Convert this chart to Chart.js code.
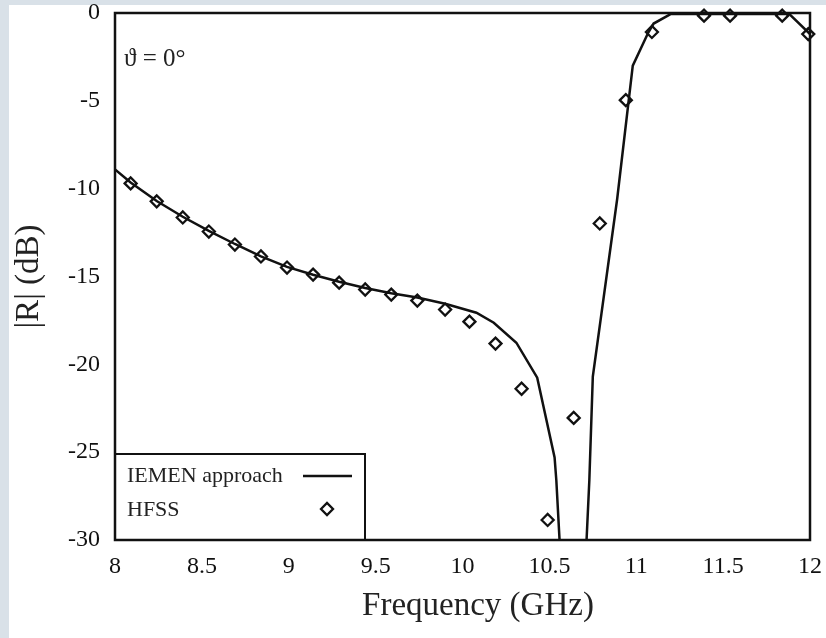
<!DOCTYPE html>
<html>
<head>
<meta charset="utf-8">
<script src="https://cdn.jsdelivr.net/npm/chart.js@4"></script>
<style>
  html, body { margin: 0; padding: 0; background: #d9e1e8; }
  #wrap { width: 826px; height: 638px; position: relative; }
</style>
</head>
<body>
<div id="wrap"><canvas id="reflChart" width="826" height="638"></canvas></div>
<script>
// IEMEN approach (solid line)
const iemenFreq = [8.00, 8.09, 8.24, 8.39, 8.54, 8.69, 8.84, 8.99, 9.14, 9.29, 9.44, 9.59, 9.74, 9.90,
  10.08, 10.18, 10.31, 10.43, 10.53, 10.54, 10.575, 10.70, 10.73, 10.75, 10.89, 10.98, 11.07, 11.10,
  11.20, 11.88, 12.00];
const iemenDb = [-8.9, -9.65, -10.7, -11.6, -12.4, -13.15, -13.85, -14.45, -14.9, -15.3, -15.65, -15.95, -16.2, -16.55,
  -17.06, -17.63, -18.77, -20.76, -25.3, -26.6, -33, -33, -26.6, -20.7, -10.6, -3.0, -1.1, -0.6,
  -0.05, -0.05, -1.2];

// HFSS (diamonds)
const hfssFreq = [8.09, 8.24, 8.39, 8.54, 8.69, 8.84, 8.99, 9.14, 9.29, 9.44, 9.59, 9.74, 9.90,
  10.04, 10.19, 10.34, 10.49, 10.64, 10.79, 10.94, 11.09, 11.39, 11.54, 11.84, 11.99];
const hfssDb = [-9.70, -10.72, -11.64, -12.44, -13.18, -13.86, -14.49, -14.89, -15.35, -15.74, -16.03, -16.37, -16.88,
  -17.57, -18.82, -21.39, -28.86, -23.05, -11.98, -4.96, -1.08, -0.15, -0.15, -0.15, -1.2];

const xTicks = [8, 8.5, 9, 9.5, 10, 10.5, 11, 11.5, 12];
const yTicks = [-30, -25, -20, -15, -10, -5, 0];

const serif = '"Liberation Serif", "Times New Roman", serif';
const ink = '#111111';

// page background + white panel, frame, legend, angle note, x title
const framePlugin = {
    id: 'framePlugin',
    beforeDraw(chart) {
        const ctx = chart.ctx;
        ctx.save();
        ctx.fillStyle = '#d9e1e8';
        ctx.fillRect(0, 0, chart.width, chart.height);
        ctx.fillStyle = '#ffffff';
        ctx.fillRect(9, 5, chart.width - 9, chart.height - 5);
        ctx.restore();
    },
    afterDatasetsDraw(chart) {
        const ctx = chart.ctx;
        const a = chart.chartArea;
        ctx.save();

        // legend box in the lower left corner
        const bx = a.left, by = 454, bw = 250, bh = a.bottom - 454;
        ctx.fillStyle = '#ffffff';
        ctx.fillRect(bx, by, bw, bh);
        ctx.strokeStyle = ink;
        ctx.lineWidth = 2;
        ctx.strokeRect(bx, by, bw, bh);

        const ds = chart.data.datasets;
        ctx.font = '22px ' + serif;
        ctx.fillStyle = '#222';
        ctx.textBaseline = 'middle';
        ctx.fillText(ds[0].label, bx + 12, 476);
        ctx.fillText(ds[1].label, bx + 12, 510);

        ctx.strokeStyle = ds[0].borderColor;
        ctx.lineWidth = ds[0].borderWidth;
        ctx.beginPath();
        ctx.moveTo(bx + 188, 476);
        ctx.lineTo(bx + 237, 476);
        ctx.stroke();

        ctx.fillStyle = '#ffffff';
        ctx.strokeStyle = ds[1].pointBorderColor;
        ctx.lineWidth = ds[1].pointBorderWidth;
        Chart.helpers.drawPoint(ctx, {
            pointStyle: 'rectRot',
            radius: ds[1].pointRadius,
            borderWidth: ds[1].pointBorderWidth,
            rotation: 0
        }, bx + 212, 509);

        // plot frame
        ctx.strokeStyle = ink;
        ctx.lineWidth = 2.5;
        ctx.strokeRect(a.left, a.top, a.right - a.left, a.bottom - a.top);

        // incidence angle note
        ctx.font = '25px ' + serif;
        ctx.fillStyle = '#222';
        ctx.textBaseline = 'alphabetic';
        ctx.fillText('\u03D1 = 0\u00B0', a.left + 9, 66);

        // x axis title (sits a little right of the plot centre in the original)
        ctx.font = '33px ' + serif;
        ctx.textAlign = 'center';
        ctx.textBaseline = 'middle';
        ctx.fillText('Frequency (GHz)', 478, 606);
        ctx.restore();
    }
};

const ctx = document.getElementById('reflChart').getContext('2d');
const myChart = new Chart(ctx, {
    type: 'scatter',
    data: {
        datasets: [
            {
                label: 'IEMEN approach',
                type: 'line',
                data: iemenFreq.map((f, i) => ({ x: f, y: iemenDb[i] })),
                borderColor: ink,
                borderWidth: 2.5,
                pointRadius: 0,
                fill: false,
                tension: 0
            },
            {
                label: 'HFSS',
                data: hfssFreq.map((f, i) => ({ x: f, y: hfssDb[i] })),
                pointStyle: 'rectRot',
                pointRadius: 6,
                pointBorderWidth: 2.3,
                pointBorderColor: ink,
                pointBackgroundColor: 'rgba(255,255,255,0)',
                borderColor: ink,
                clip: false
            }
        ]
    },
    options: {
        responsive: false,
        animation: false,
        devicePixelRatio: 1,
        layout: { padding: { top: 13, right: 16, left: 0, bottom: 0 } },
        plugins: {
            legend: { display: false },
            tooltip: { enabled: false }
        },
        scales: {
            x: {
                type: 'linear',
                min: 8,
                max: 12,
                afterBuildTicks: (axis) => { axis.ticks = xTicks.map(v => ({ value: v })); },
                afterFit: (axis) => {
                    axis.height = 98;
                    axis.paddingLeft = 0;
                    axis.paddingRight = 0;
                },
                grid: { display: false, drawTicks: false },
                border: { display: false },
                ticks: {
                    color: ink,
                    padding: 12,
                    maxRotation: 0,
                    callback: (v) => String(v),
                    font: { family: serif, size: 24 }
                },
                title: { display: false }
            },
            y: {
                type: 'linear',
                min: -30,
                max: 0,
                afterBuildTicks: (axis) => { axis.ticks = yTicks.map(v => ({ value: v })); },
                afterFit: (axis) => {
                    axis.width = 115;
                    axis.paddingTop = 0;
                    axis.paddingBottom = 0;
                },
                grid: { display: false, drawTicks: false },
                border: { display: false },
                ticks: {
                    color: ink,
                    padding: 15,
                    callback: (v) => String(v),
                    font: { family: serif, size: 24 }
                },
                title: {
                    display: true,
                    text: '|R| (dB)',
                    color: '#222',
                    font: { family: serif, size: 33 },
                    padding: { top: 10, bottom: 0 }
                }
            }
        }
    },
    plugins: [framePlugin]
});
</script>
</body>
</html>
